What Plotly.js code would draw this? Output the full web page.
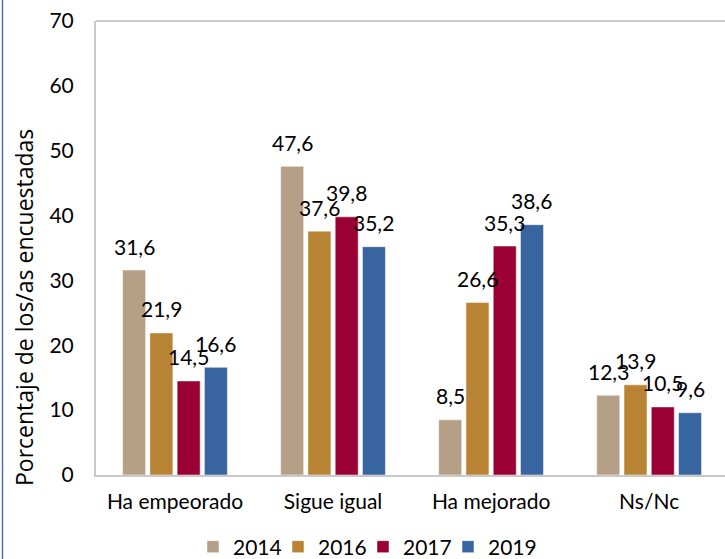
<!DOCTYPE html>
<html><head><meta charset="utf-8">
<script src="https://cdn.plot.ly/plotly-3.0.1.min.js"></script>
<style>html,body{margin:0;padding:0;background:#fff}#chart{width:725px;height:559px}</style>
</head><body><div id="chart"></div>
<script>
const categories = ['Ha empeorado', 'Sigue igual', 'Ha mejorado', 'Ns/Nc'];
const years = ['2014', '2016', '2017', '2019'];
const v2014 = [31.6, 47.6, 8.5, 12.3];
const v2016 = [21.9, 37.6, 26.6, 13.9];
const v2017 = [14.5, 39.8, 35.3, 10.5];
const v2019 = [16.6, 35.2, 38.6, 9.6];
const yTicks = [0, 10, 20, 30, 40, 50, 60, 70];

const series = [v2014, v2016, v2017, v2019];
const colors = ['#b59f87', '#b88332', '#9b0034', '#3864a0'];
const FONT = 'Lato, "Open Sans", sans-serif';
const TFONT = '"Open Sans", "Noto Sans", sans-serif';

const traces = series.map((vals, i) => ({
  type: 'bar', name: years[i], x: categories, y: vals,
  marker: {color: colors[i], line: {color: 'rgba(255,255,255,0.5)', width: 1}},
  hoverinfo: 'skip'
}));
// invisible spacer entry so the last legend label is not clipped
traces.push({type: 'scatter', mode: 'markers', x: [null], y: [null], name: ' ',
  marker: {color: 'rgba(0,0,0,0)', size: 1, line: {width: 0}}, hoverinfo: 'skip', showlegend: true});

const plotW = 725 - 96;
const catPx = plotW / 3.98;
const slot = catPx * (1 - 0.31) / 4;
const annotations = [];
series.forEach((vals, i) => {
  vals.forEach((v, j) => {
    annotations.push({
      x: categories[j], y: v, xref: 'x', yref: 'y',
      text: v.toFixed(1).replace('.', ','), showarrow: false,
      xshift: (i - 1.5) * slot, yshift: 24, yanchor: 'middle', xanchor: 'center',
      font: {family: FONT, size: 21, color: '#000'}
    });
  });
});
annotations.push({
  text: 'Porcentaje de los/as encuestadas', textangle: -90, showarrow: false,
  xref: 'paper', yref: 'paper', x: (24 - 96) / plotW, y: (475 - 308) / 454,
  xanchor: 'center', yanchor: 'middle', font: {family: TFONT, size: 23, color: '#000'}
});

const layout = {
  width: 725, height: 559,
  margin: {l: 96, r: 0, t: 21, b: 84, autoexpand: false},
  paper_bgcolor: '#fff', plot_bgcolor: '#fff',
  separators: ', ',
  barmode: 'group', bargap: 0.31, bargroupgap: 0.156,
  font: {family: FONT, size: 21, color: '#000'},
  xaxis: {
    range: [-0.5, 3.48], showgrid: false, zeroline: false,
    showline: true, linecolor: '#c9c9c9', linewidth: 2,
    ticks: 'outside', ticklen: 7, tickcolor: 'rgba(0,0,0,0)',
    tickfont: {family: FONT, size: 21, color: '#000'}
  },
  yaxis: {
    range: [0, 70], tickvals: yTicks, showgrid: false, zeroline: false,
    showline: true, linecolor: '#c9c9c9', linewidth: 2,
    ticks: 'outside', ticklen: 16, tickcolor: 'rgba(0,0,0,0)',
    tickfont: {family: FONT, size: 21, color: '#000'}
  },
  showlegend: true,
  legend: {
    orientation: 'h', x: (193 - 96) / plotW, xanchor: 'left',
    y: (475 - 547) / 454, yanchor: 'middle',
    font: {family: FONT, size: 21, color: '#000'}, itemwidth: 30,
    entrywidth: 40, traceorder: 'normal',
    bgcolor: 'rgba(0,0,0,0)'
  },
  shapes: [
    {type: 'line', xref: 'paper', yref: 'paper', x0: 0, x1: 1.01, y0: 1, y1: 1,
     line: {color: '#c9c9c9', width: 2}},
    {type: 'line', xref: 'paper', yref: 'paper', x0: (2.5 - 96) / plotW, x1: (2.5 - 96) / plotW,
     y0: -0.2, y1: 1.05, line: {color: '#4a72b0', width: 1.5}}
  ],
  annotations: annotations
};

Plotly.newPlot('chart', traces, layout, {displayModeBar: false, staticPlot: true});
</script></body></html>
